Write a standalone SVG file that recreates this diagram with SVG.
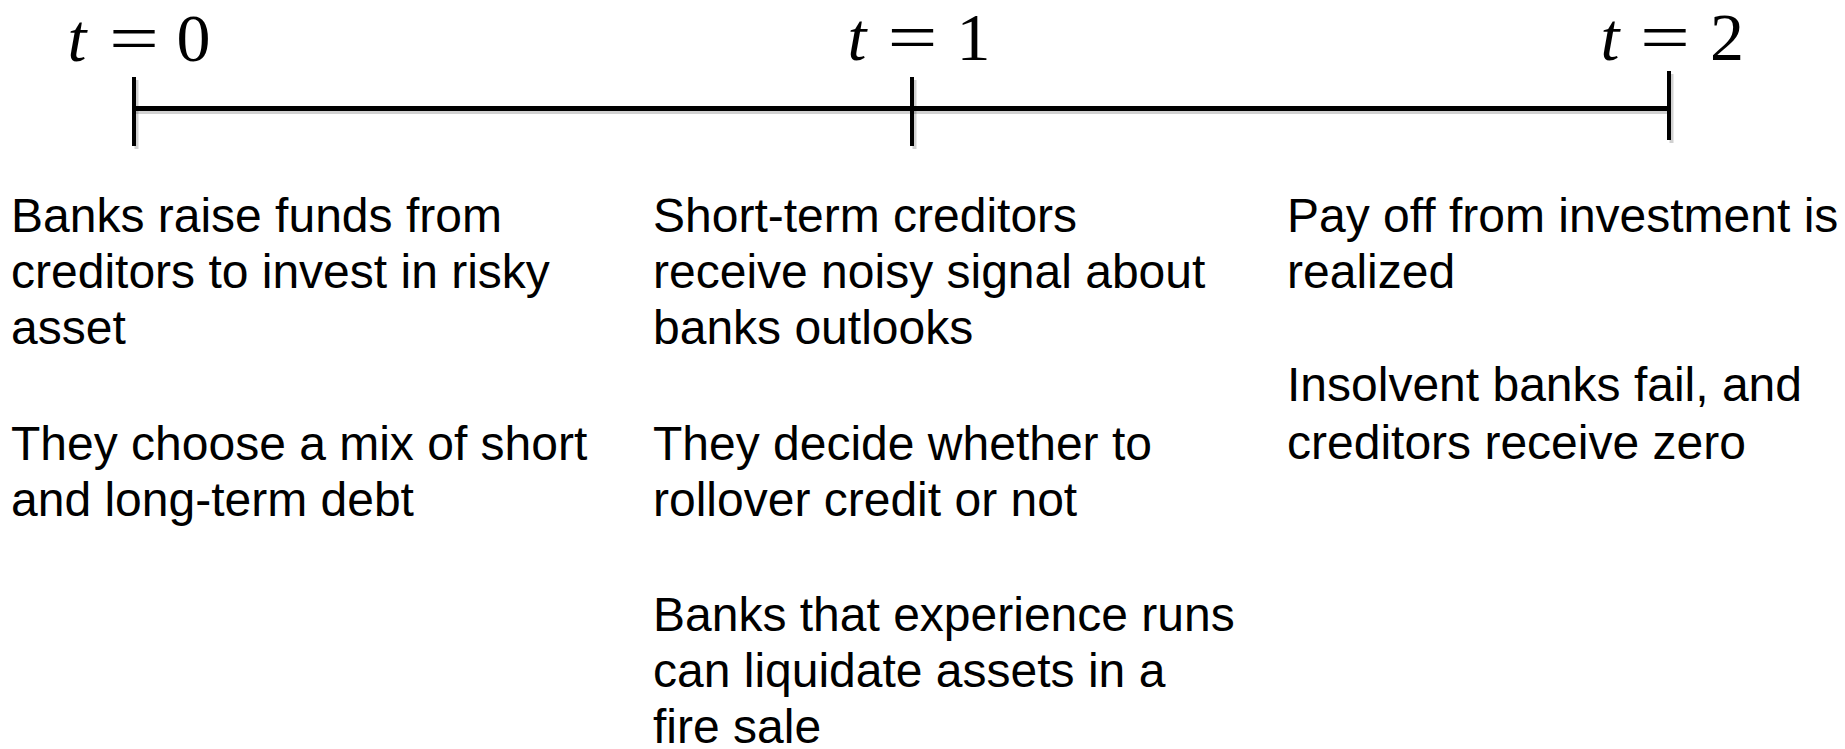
<svg xmlns="http://www.w3.org/2000/svg" width="1845" height="749" viewBox="0 0 1845 749">
<style>
.m{font-family:"Liberation Serif","Times New Roman",serif;font-size:68px;fill:#000;text-anchor:middle}
.mi{font-style:italic}
.b{font-family:"Liberation Sans",Arial,sans-serif;font-size:48px;fill:#000}
.ln{stroke:#000;fill:none}
.sh{stroke:#000;stroke-opacity:0.18;fill:none}
</style>
<rect width="1845" height="749" fill="#fff"/>
<g id="connectors">
<line class="sh" x1="136" y1="111.5" x2="1671" y2="111.5" stroke-width="5"/>
<line class="sh" x1="136.5" y1="80" x2="136.5" y2="149" stroke-width="4"/>
<line class="sh" x1="914.5" y1="80" x2="914.5" y2="149" stroke-width="4"/>
<line class="sh" x1="1671.5" y1="74" x2="1671.5" y2="143" stroke-width="4"/>
<line class="ln" x1="134" y1="108.5" x2="1669" y2="108.5" stroke-width="5"/>
<line class="ln" x1="134" y1="77" x2="134" y2="146" stroke-width="4"/>
<line class="ln" x1="912" y1="77" x2="912" y2="146" stroke-width="4"/>
<line class="ln" x1="1669" y1="71" x2="1669" y2="140" stroke-width="4"/>
</g>
<g id="t0">
<text class="m mi" x="77" y="61">t</text>
<text class="m" x="134" y="61" textLength="50" lengthAdjust="spacingAndGlyphs">=</text>
<text class="m" x="193.5" y="61">0</text>
</g>
<g id="t1">
<text class="m mi" x="857" y="60">t</text>
<text class="m" x="912.5" y="60" textLength="50" lengthAdjust="spacingAndGlyphs">=</text>
<text class="m" x="973.5" y="60">1</text>
</g>
<g id="t2">
<text class="m mi" x="1610" y="60">t</text>
<text class="m" x="1665" y="60" textLength="50" lengthAdjust="spacingAndGlyphs">=</text>
<text class="m" x="1727" y="60">2</text>
</g>
<g id="col0">
<text class="b" x="11" y="232">Banks raise funds from</text>
<text class="b" x="11" y="288">creditors to invest in risky</text>
<text class="b" x="11" y="344">asset</text>
<text class="b" x="11" y="460">They choose a mix of short</text>
<text class="b" x="11" y="516">and long-term debt</text>
</g>
<g id="col1">
<text class="b" x="653" y="232">Short-term creditors</text>
<text class="b" x="653" y="288">receive noisy signal about</text>
<text class="b" x="653" y="344">banks outlooks</text>
<text class="b" x="653" y="460">They decide whether to</text>
<text class="b" x="653" y="516">rollover credit or not</text>
<text class="b" x="653" y="631">Banks that experience runs</text>
<text class="b" x="653" y="687">can liquidate assets in a</text>
<text class="b" x="653" y="743">fire sale</text>
</g>
<g id="col2">
<text class="b" x="1287" y="232">Pay off from investment is</text>
<text class="b" x="1287" y="288">realized</text>
<text class="b" x="1287" y="401">Insolvent banks fail, and</text>
<text class="b" x="1287" y="459">creditors receive zero</text>
</g>
</svg>
